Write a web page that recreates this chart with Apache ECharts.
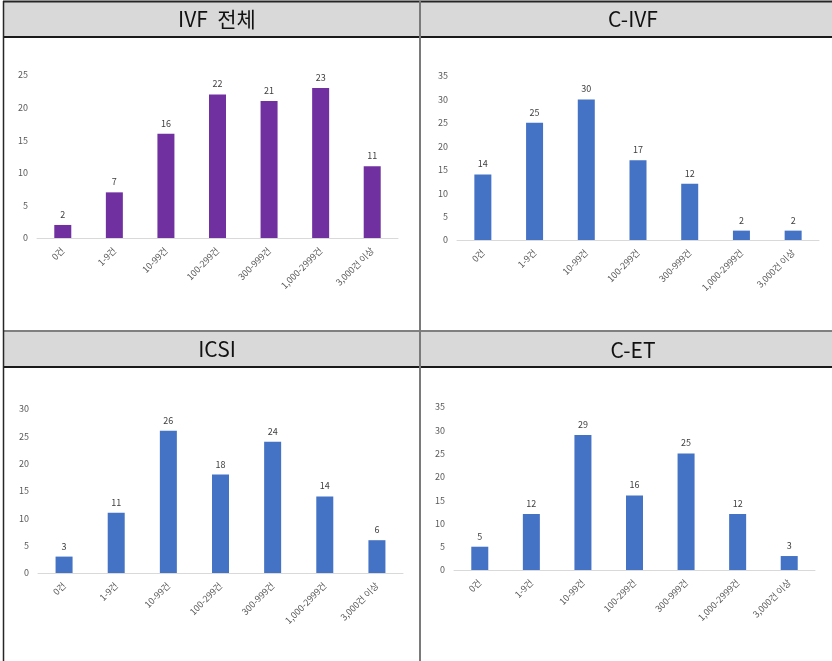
<!DOCTYPE html>
<html>
<head>
<meta charset="utf-8">
<script src="https://cdn.jsdelivr.net/npm/echarts@6/dist/echarts.min.js"></script>
<style>
html,body{margin:0;padding:0;background:#fff;}
#c{width:832px;height:661px;}
</style>
</head>
<body>
<div id="c"></div>
<script>
// ---- data ----
var categories = ['0건', '1-9건', '10-99건', '100-299건', '300-999건', '1,000-2999건', '3,000건 이상'];
var panelTitles = ['IVF  전체', 'C-IVF', 'ICSI', 'C-ET'];
var ivfTotal = [2, 7, 16, 22, 21, 23, 11];
var cIvf = [14, 25, 30, 17, 12, 2, 2];
var icsi = [3, 11, 26, 18, 24, 14, 6];
var cEt = [5, 12, 29, 16, 25, 12, 3];
var yMax = [25, 35, 30, 35];

// ---- layout ----
var seriesData = [ivfTotal, cIvf, icsi, cEt];
var colors = ['#7030A0', '#4472C4', '#4472C4', '#4472C4'];
var grids = [
  {left: 37, top: 75, width: 361, height: 163},
  {left: 457, top: 76, width: 362, height: 164},
  {left: 38, top: 409, width: 365, height: 164},
  {left: 454, top: 407, width: 361, height: 163}
];
var titlePos = [
  {x: 212, y: 14},
  {x: 628, y: 14},
  {x: 212, y: 344},
  {x: 628, y: 345}
];
var FONT = '"Noto Sans CJK KR", "Noto Sans", sans-serif';

var option = {
  backgroundColor: '#ffffff',
  animation: false,
  textStyle: {fontFamily: FONT},
  grid: [], xAxis: [], yAxis: [], series: [], title: [],
  graphic: []
};

// backgrounds and frame lines
option.graphic.push(
  {type: 'rect', shape: {x: 3, y: 2, width: 829, height: 35}, style: {fill: '#d9d9d9'}, z: 0},
  {type: 'rect', shape: {x: 3, y: 332, width: 829, height: 35}, style: {fill: '#d9d9d9'}, z: 0},
  {type: 'line', shape: {x1: 3, y1: 1.5, x2: 832, y2: 1.5}, style: {stroke: '#262626', lineWidth: 2}, z: 1},
  {type: 'line', shape: {x1: 3, y1: 37, x2: 832, y2: 37}, style: {stroke: '#1a1a1a', lineWidth: 2}, z: 1},
  {type: 'line', shape: {x1: 3, y1: 331, x2: 832, y2: 331}, style: {stroke: '#808080', lineWidth: 2}, z: 1},
  {type: 'line', shape: {x1: 3, y1: 367, x2: 832, y2: 367}, style: {stroke: '#1a1a1a', lineWidth: 2}, z: 1},
  {type: 'line', shape: {x1: 3.5, y1: 1, x2: 3.5, y2: 661}, style: {stroke: '#262626', lineWidth: 1.5}, z: 2},
  {type: 'line', shape: {x1: 420, y1: 1, x2: 420, y2: 661}, style: {stroke: '#7a7a7a', lineWidth: 2}, z: 2}
);

for (var i = 0; i < 4; i++) {
  option.title.push({
    text: panelTitles[i],
    left: titlePos[i].x, top: titlePos[i].y,
    textAlign: 'center', textVerticalAlign: 'middle',
    textStyle: {fontFamily: FONT, fontSize: 21, fontWeight: 'normal', color: '#111111'}
  });
  option.grid.push(grids[i]);
  option.xAxis.push({
    type: 'category', gridIndex: i, data: categories,
    axisLine: {lineStyle: {color: '#d9d9d9', width: 1}},
    axisTick: {show: false},
    axisLabel: {interval: 0, rotate: 45, fontSize: 9, color: '#595959', margin: 11, fontFamily: FONT}
  });
  option.yAxis.push({
    type: 'value', gridIndex: i, min: 0, max: yMax[i], interval: 5,
    axisLine: {show: false}, axisTick: {show: false},
    splitLine: {show: false},
    axisLabel: {fontSize: 9, color: '#595959', margin: 9, fontFamily: FONT}
  });
  option.series.push({
    type: 'bar', xAxisIndex: i, yAxisIndex: i,
    data: seriesData[i], barWidth: 17,
    itemStyle: {color: colors[i]},
    label: {show: true, position: 'top', distance: 6, fontSize: 9, color: '#404040', fontFamily: FONT}
  });
}

var chart = echarts.init(document.getElementById('c'), null, {renderer: 'canvas'});
chart.setOption(option);
</script>
</body>
</html>
